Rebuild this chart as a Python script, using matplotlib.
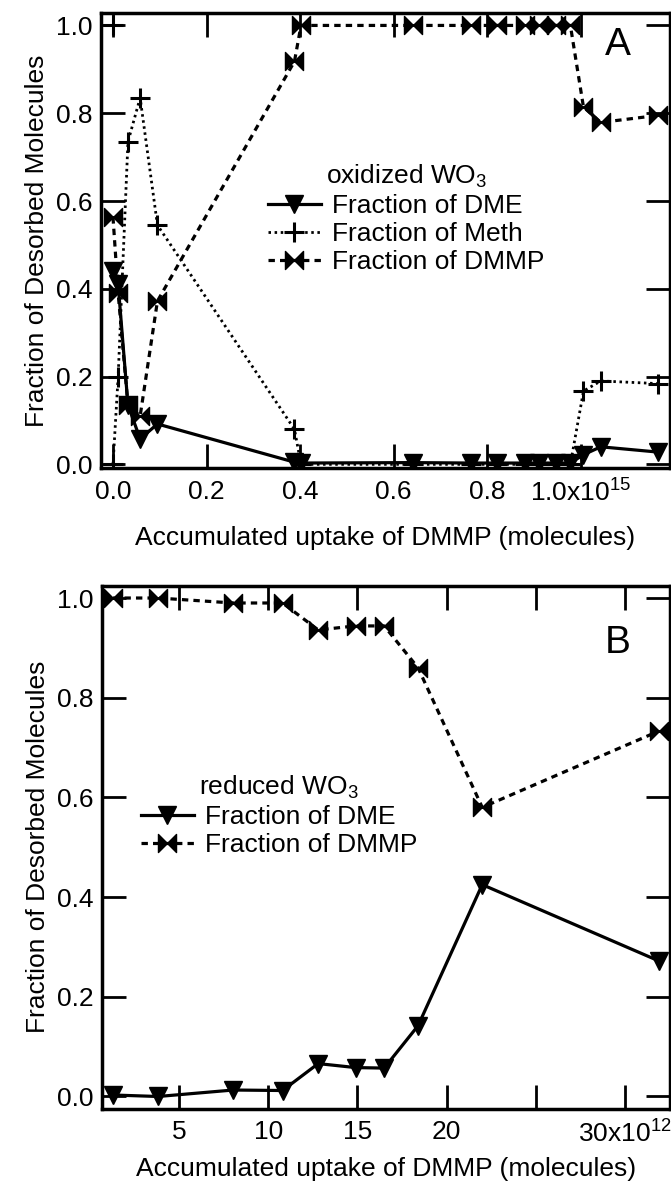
import numpy as np
import matplotlib
matplotlib.use('Agg')
import matplotlib.pyplot as plt
from matplotlib.path import Path

plt.rcParams['font.family'] = ['Liberation Sans', 'DejaVu Sans']
plt.rcParams['mathtext.fontset'] = 'custom'
plt.rcParams['mathtext.rm'] = 'Liberation Sans'
plt.rcParams['mathtext.it'] = 'Liberation Sans:italic'
plt.rcParams['mathtext.bf'] = 'Liberation Sans:bold'

# Painel A: WO3 oxidado (x em unidades de 1e15 moleculas)
x_a = [0.0, 0.011, 0.032, 0.058, 0.095, 0.388, 0.402, 0.641, 0.766, 0.822,
       0.880, 0.911, 0.948, 0.978, 1.006, 1.043, 1.165]
dme_a = [0.44, 0.41, 0.135, 0.058, 0.092, 0.005, 0.003, 0.004, 0.003, 0.003,
         0.003, 0.003, 0.003, 0.003, 0.022, 0.040, 0.028]
meth_a = [0.0, 0.20, 0.735, 0.835, 0.545, 0.08, 0.0, 0.0, 0.0, 0.0,
          0.0, 0.0, 0.0, 0.0, 0.167, 0.19, 0.184]
dmmp_a = [0.563, 0.39, 0.135, 0.11, 0.372, 0.918, 1.0, 1.0, 1.0, 1.0,
          1.0, 1.0, 1.0, 1.0, 0.814, 0.779, 0.795]
meth_a_isolado_x = [0.0]
meth_a_isolado_y = [1.0]
ticks_a = [0.0, 0.2, 0.4, 0.6, 0.8, 1.0]
ticklabels_a = ['0.0', '0.2', '0.4', '0.6', '0.8', r'1.0x10$^{15}$']

# Painel B: WO3 reduzido (x em unidades de 1e12 moleculas)
x_b = [1.29, 3.82, 8.03, 10.8, 12.8, 14.9, 16.5, 18.4, 22.0, 31.9]
dme_b = [0.003, 0.0, 0.013, 0.012, 0.066, 0.058, 0.057, 0.142, 0.425, 0.272]
dmmp_b = [1.0, 1.0, 0.99, 0.99, 0.936, 0.944, 0.944, 0.86, 0.58, 0.733]
ticks_b = [5, 10, 15, 20, 25, 30]
ticklabels_b = ['5', '10', '15', '20', '', r'30x10$^{12}$']

yticks = [0.0, 0.2, 0.4, 0.6, 0.8, 1.0]

# marcador "gravata borboleta"
bowtie = Path([(-1, -1), (-1, 1), (0, 0), (-1, -1),
               (1, -1), (1, 1), (0, 0), (1, -1)],
              [Path.MOVETO, Path.LINETO, Path.LINETO, Path.CLOSEPOLY,
               Path.MOVETO, Path.LINETO, Path.LINETO, Path.CLOSEPOLY])

estilo_dme = dict(color='black', lw=2.3, ls='-', marker='v', ms=13)
estilo_meth = dict(color='black', lw=2.0, ls=(0, (0.9, 1.3)), marker='+', ms=14, mew=2.2)
estilo_dmmp = dict(color='black', lw=2.3, ls=(0, (2.0, 1.6)), marker=bowtie, ms=13)

FS = 19

fig = plt.figure(figsize=(6.71, 11.95), dpi=100)
ax_a = fig.add_axes([0.1505, 0.608, 0.848, 0.381])
ax_b = fig.add_axes([0.152, 0.072, 0.8465, 0.438])


def formata_eixo(ax, pad_xlabel):
    for s in ax.spines.values():
        s.set_linewidth(2.5)
    ax.tick_params(direction='in', length=17, width=2.0, top=True, right=True,
                   labelsize=FS, pad=6)
    ax.tick_params(axis='x', pad=8)
    ax.set_yticks(yticks)
    ax.set_yticklabels(['%.1f' % v for v in yticks])
    ax.set_ylabel('Fraction of Desorbed Molecules', fontsize=FS, labelpad=5)
    ax.set_xlabel('Accumulated uptake of DMMP (molecules)', fontsize=FS,
                  labelpad=pad_xlabel)


# Painel A
ax_a.plot(x_a, dmmp_a, label='Fraction of DMMP', zorder=2, **estilo_dmmp)
ax_a.plot(x_a, meth_a, label='Fraction of Meth', zorder=3, **estilo_meth)
ax_a.plot(x_a, dme_a, label='Fraction of DME', zorder=4, **estilo_dme)
ax_a.plot(meth_a_isolado_x, meth_a_isolado_y, ls='none', color='black',
          marker='+', ms=14, mew=2.2)
ax_a.set_xlim(-0.0257, 1.191)
ax_a.set_ylim(-0.0093, 1.028)
ax_a.set_xticks(ticks_a)
ax_a.set_xticklabels(ticklabels_a)
formata_eixo(ax_a, 14)
h, l = ax_a.get_legend_handles_labels()
ax_a.legend([h[2], h[1], h[0]], [l[2], l[1], l[0]], title='oxidized WO$_3$',
            title_fontsize=FS, fontsize=FS, frameon=False, loc='upper left',
            bbox_to_anchor=(0.27, 0.70), borderpad=0, handlelength=2.0,
            handletextpad=0.45, labelspacing=0.15)
ax_a.text(0.909, 0.93, 'A', transform=ax_a.transAxes, fontsize=28,
          ha='center', va='center')

# Painel B
ax_b.plot(x_b, dmmp_b, label='Fraction of DMMP', zorder=2, **estilo_dmmp)
ax_b.plot(x_b, dme_b, label='Fraction of DME', zorder=4, **estilo_dme)
ax_b.set_xlim(0.674, 32.53)
ax_b.set_ylim(-0.025, 1.025)
ax_b.set_xticks(ticks_b)
ax_b.set_xticklabels(ticklabels_b)
formata_eixo(ax_b, 7)
h, l = ax_b.get_legend_handles_labels()
ax_b.legend([h[1], h[0]], [l[1], l[0]], title='reduced WO$_3$',
            title_fontsize=FS, fontsize=FS, frameon=False, loc='upper left',
            bbox_to_anchor=(0.045, 0.665), borderpad=0, handlelength=2.0,
            handletextpad=0.45, labelspacing=0.15)
ax_b.text(0.908, 0.89, 'B', transform=ax_b.transAxes, fontsize=28,
          ha='center', va='center')

fig.savefig('out.png', dpi=100)
